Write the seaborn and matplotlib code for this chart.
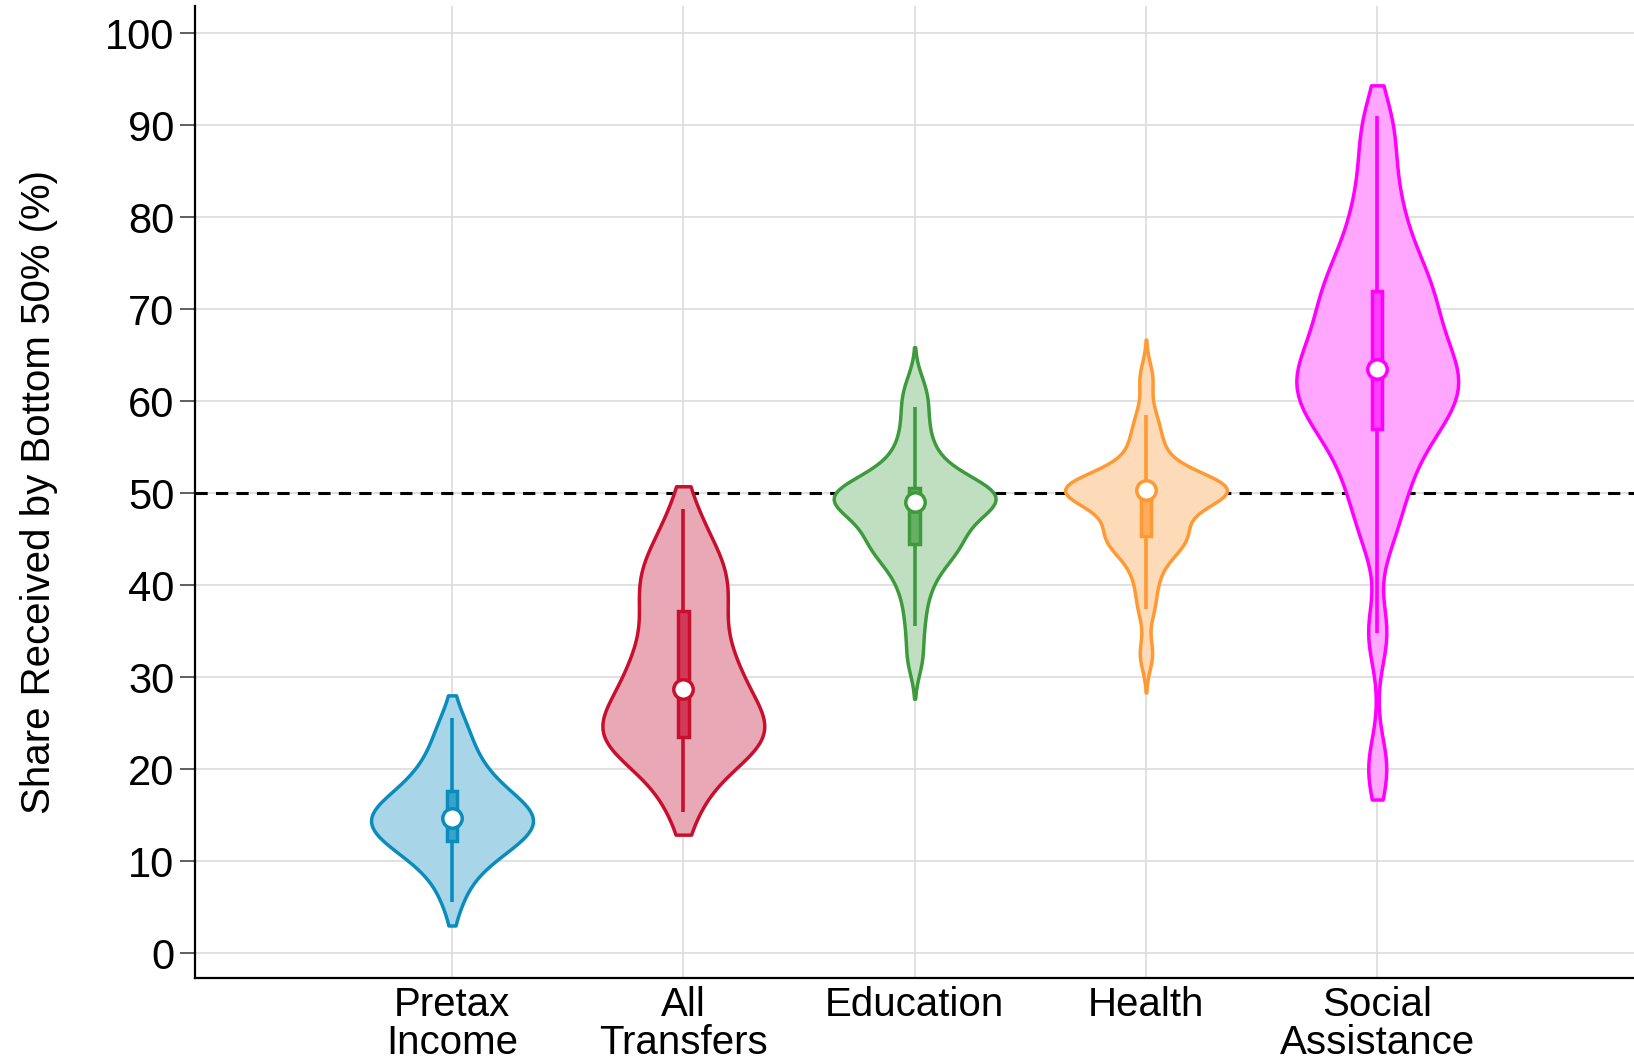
import numpy as np
import pandas as pd
import matplotlib
matplotlib.use("Agg")
import matplotlib.pyplot as plt
import seaborn as sns

# categories and per-country shares (%)
categories = ["Pretax\nIncome", "All\nTransfers", "Education", "Health", "Social\nAssistance"]

pretax = [5.5, 7.8, 9.2, 10.2, 10.9, 11.4, 11.8, 12.0, 12.4, 13.0, 13.4, 13.8, 14.1, 14.3, 14.5, 14.7,
          14.9, 15.2, 15.5, 15.9, 16.3, 16.8, 17.4, 17.8, 18.5, 19.2, 20.0, 21.0, 22.3, 23.8, 25.5]
transfers = [15.3, 18.0, 20.0, 21.2, 22.0, 22.6, 23.0, 23.3, 23.7, 24.3, 25.0, 25.7, 26.4, 27.0, 27.8, 28.7,
             29.5, 30.5, 31.5, 32.5, 33.5, 34.7, 36.8, 37.6, 38.8, 40.0, 41.2, 42.3, 43.5, 45.2, 48.3]
education = [32.0, 35.6, 38.5, 40.5, 42.0, 43.0, 43.8, 44.3, 44.7, 45.3, 46.0, 46.8, 47.5, 48.0, 48.5, 49.0,
             49.2, 49.4, 49.6, 49.8, 50.0, 50.2, 50.4, 50.6, 51.5, 52.5, 53.5, 55.0, 57.0, 59.4, 61.5]
health = [32.5, 37.4, 40.0, 42.0, 43.5, 44.3, 44.8, 45.1, 45.5, 46.2, 47.0, 47.8, 48.5, 49.2, 49.7, 50.3,
          50.35, 50.4, 50.45, 50.5, 50.55, 50.6, 50.6, 50.65, 51.5, 52.5, 53.5, 55.0, 56.5, 58.5, 62.5]
social = [20.0, 34.8, 45.0, 48.5, 51.0, 53.0, 55.0, 56.5, 57.5, 58.5, 59.5, 60.5, 61.2, 62.0, 62.8, 63.5,
          64.5, 65.5, 66.5, 67.8, 69.0, 70.2, 71.5, 72.5, 74.0, 75.5, 77.5, 80.0, 83.0, 87.0, 91.0]

series = [pretax, transfers, education, health, social]
edge_colors = ["#0a8cbd", "#c8102e", "#3d9a3d", "#ff9933", "#ff00ff"]
fill_colors = ["#a8d6e8", "#e8a8b6", "#c0dfc0", "#fddab8", "#ffa6ff"]
box_colors = ["#3aa3cc", "#d23a5a", "#66b066", "#ffad5c", "#ff40ff"]
bw_adjust = [1.0, 0.7, 0.62, 0.58, 0.45]
cuts = [1.1, 0.8, 2.2, 2.4, 1.0]

df = pd.concat(
    [pd.DataFrame({"cat": c, "share": v}) for c, v in zip(categories, series)],
    ignore_index=True,
)

sns.set_style("white")
plt.rcParams["font.family"] = ["Liberation Sans", "DejaVu Sans"]
plt.rcParams["text.color"] = "black"
plt.rcParams["axes.labelcolor"] = "black"

fig = plt.figure(figsize=(16.34, 10.60), dpi=100)
ax = fig.add_axes([0.1195, 0.0775, 0.8805, 0.9165])

ax.axhline(50, color="black", lw=2.2, dashes=(4, 2.7), zorder=1)

for i, cat in enumerate(categories):
    sub = df[df["cat"] == cat]
    sns.violinplot(data=sub, x="cat", y="share", order=categories, color=fill_colors[i],
                   linecolor=edge_colors[i], linewidth=2.5, inner=None, density_norm="width",
                   width=0.70, cut=cuts[i], bw_adjust=bw_adjust[i], saturation=1, ax=ax, zorder=2)
    sns.boxplot(data=sub, x="cat", y="share", order=categories, color=box_colors[i],
                linecolor=edge_colors[i], linewidth=2.5, width=0.045, showcaps=False,
                showfliers=False, saturation=1, medianprops={"visible": False},
                whiskerprops={"linewidth": 2.6}, ax=ax)
    sns.pointplot(data=sub, x="cat", y="share", order=categories, estimator="median",
                  errorbar=None, color="white", markers="o", markersize=14,
                  markeredgecolor=edge_colors[i], markeredgewidth=2.5, linestyle="none", ax=ax)

ax.set_xlim(-1.11, 5.11)
ax.set_ylim(-2.7, 102.9)
ax.set_yticks(range(0, 101, 10))
ax.grid(True, color="#dcdcdc", lw=1.2, zorder=0)
ax.set_axisbelow(True)

for s in ["top", "right"]:
    ax.spines[s].set_visible(False)
for s in ["left", "bottom"]:
    ax.spines[s].set_color("black")
    ax.spines[s].set_linewidth(1.6)

ax.tick_params(axis="y", length=11, width=1.2, color="#444444", pad=4, labelsize=30,
               labelcolor="black", left=True)
ax.tick_params(axis="x", length=0, pad=6, labelsize=29, labelcolor="black")
ax.set_xlabel("")
ax.set_ylabel("Share Received by Bottom 50% (%)", fontsize=29, labelpad=34)
for lab in ax.get_xticklabels():
    lab.set_linespacing(1.0)

fig.savefig("out.png", dpi=100)
